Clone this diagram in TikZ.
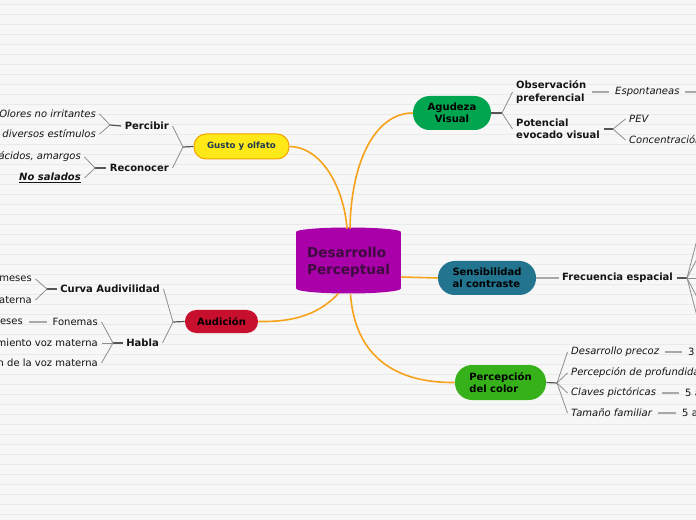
\documentclass[tikz,border=0pt]{standalone}
\usepackage{fontspec}
\setmainfont{DejaVu Sans}
\usetikzlibrary{calc}
\definecolor{bgc}{HTML}{F7F7F7}
\definecolor{bgl}{HTML}{EAEAEA}
\definecolor{orangec}{HTML}{F7A21B}
\definecolor{stubc}{HTML}{555555}
\definecolor{twigc}{HTML}{8E8E8E}
\definecolor{linkc}{HTML}{A8A8A8}
\definecolor{cylc}{HTML}{A900A9}
\definecolor{cyltext}{HTML}{3E0C3E}
\definecolor{gustofill}{HTML}{FFE817}
\definecolor{gustodraw}{HTML}{F5A300}
\definecolor{gustotext}{HTML}{1F3A4D}
\definecolor{agufill}{HTML}{02A54F}
\definecolor{sensfill}{HTML}{23748F}
\definecolor{percfill}{HTML}{37B119}
\definecolor{audfill}{HTML}{C8102E}
\begin{document}
\begin{tikzpicture}[x=0.75pt,y=-0.75pt,
  txt/.style={inner xsep=2.6pt, inner ysep=1pt, text=black!92, font=\fontsize{7.5}{9.4}\selectfont},
  boldtxt/.style={txt, font=\fontsize{7.5}{9.4}\selectfont\bfseries, align=left},
  itxt/.style={txt, font=\fontsize{7.5}{9.4}\selectfont\itshape},
  topic/.style={inner sep=0pt, text=black, font=\fontsize{7.5}{9.4}\selectfont\bfseries},
  orangeline/.style={draw=orangec, line width=1.2pt},
  stub/.style={draw=stubc, line width=0.9pt},
  twig/.style={draw=twigc, line width=0.6pt},
  link/.style={draw=linkc, line width=0.8pt, shorten <=1.6pt, shorten >=1.6pt}
]
\useasboundingbox (0,0) rectangle (696,520);
\clip (0,0) rectangle (696,520);
\fill[bgc] (0,0) rectangle (696,520);
\foreach \yy in {4.5,14.5,...,520} \draw[bgl, line width=0.75pt] (0,\yy) -- (696,\yy);

% central cylinder
\fill[cylc] (296,232) rectangle (401,288.5);
\fill[cylc] (348.5,232) ellipse [x radius=52.5, y radius=4.5];
\fill[cylc] (348.5,288.5) ellipse [x radius=52.5, y radius=5];
\node[inner sep=0pt, minimum width=78.75pt, minimum height=49.5pt, align=left,
      text=cyltext, font=\fontsize{10.2}{13}\selectfont\bfseries] (center) at (348.5,262) {Desarrollo\\Perceptual};

% main topics
\node[topic, fill=gustofill, draw=gustodraw, line width=0.75pt, rounded corners=9pt,
      minimum width=71.25pt, minimum height=18.75pt, text=gustotext,
      font=\fontsize{6.5}{8}\selectfont\bfseries] (gusto) at (241.5,146.5) {Gusto y olfato};
\node[topic, fill=agufill, rounded corners=12.5pt, minimum width=58.5pt, minimum height=25.5pt,
      align=center] (agudeza) at (452,113) {Agudeza\\Visual};
\node[topic, fill=sensfill, rounded corners=12.5pt, minimum width=73.5pt, minimum height=25.5pt,
      align=left] (sens) at (487,278) {Sensibilidad\\al contraste};
\node[topic, fill=percfill, rounded corners=12.8pt, minimum width=68.25pt, minimum height=26.25pt,
      align=left] (perc) at (500.5,382.5) {Percepción\\del color};
\node[topic, fill=audfill, rounded corners=8.4pt, minimum width=54.75pt, minimum height=17.25pt]
      (aud) at (221.5,321.5) {Audición};

% orange connectors
\draw[orangeline] ($(center.north)+(-1.5,0)$) .. controls (344,188) and (322,147) .. (gusto.east);
\draw[orangeline] ($(center.north)+(1.5,0)$) .. controls (351,160) and (376,113) .. (agudeza.west);
\draw[orangeline] ($(center.east)+(0,15)$) -- (sens.west);
\draw[orangeline] ($(center.south)+(2,-1)$) .. controls (356,368) and (410,383) .. (perc.west);
\draw[orangeline] ($(center.south)+(-10,-2)$) .. controls (316,318) and (286,322) .. (aud.east);

% Gusto y olfato branch
\node[boldtxt, anchor=east] (percibir) at (172.5,126) {Percibir};
\node[boldtxt, anchor=east] (reconocer) at (172.5,168) {Reconocer};
\node[itxt, anchor=east] (olores) at (99.5,114) {Olores no irritantes};
\node[itxt, anchor=east] (diversos) at (99.5,134) {a diversos estímulos};
\node[itxt, anchor=east] (acidos) at (84.5,157) {ácidos, amargos};
\node[txt, anchor=east, font=\fontsize{7.5}{9.4}\selectfont\bfseries\itshape] (nosal) at (84.5,178) {\underline{No salados}};
\coordinate (gF) at (183,147);
\coordinate (pF) at (110,125);
\coordinate (rF) at (95,168);
\draw[stub] (gusto.west) -- (gF);
\draw[twig] (gF) -- (percibir.east);
\draw[twig] (gF) -- (reconocer.east);
\draw[stub] (percibir.west) -- (pF);
\draw[twig] (pF) -- (olores.east);
\draw[twig] (pF) -- (diversos.east);
\draw[stub] (reconocer.west) -- (rF);
\draw[twig] (rF) -- (acidos.east);
\draw[twig] (rF) -- (nosal.east);

% Audicion branch
\node[boldtxt, anchor=east] (curva) at (163.5,289) {Curva Audivilidad};
\node[boldtxt, anchor=east] (habla) at (162.5,343) {Habla};
\node[txt, anchor=east] (mesesA) at (35.5,279) {meses};
\node[txt, anchor=east] (aterna) at (35.5,300) {aterna};
\node[txt, anchor=east] (fonemas) at (101.5,322) {Fonemas};
\node[txt, anchor=east] (mesesB) at (26.5,322) {meses};
\node[txt, anchor=east] (miento) at (101.5,343) {miento voz materna};
\node[txt, anchor=east] (ndela) at (101.5,363) {n de la voz materna};
\coordinate (aF) at (173,322);
\coordinate (cF) at (47,289);
\coordinate (hF) at (113,343);
\draw[stub] (aud.west) -- (aF);
\draw[twig] (aF) -- (curva.east);
\draw[twig] (aF) -- (habla.east);
\draw[stub] (curva.west) -- (cF);
\draw[twig] (cF) -- (mesesA.east);
\draw[twig] (cF) -- (aterna.east);
\draw[stub] (habla.west) -- (hF);
\draw[twig] (hF) -- (fonemas.east);
\draw[twig] (hF) -- (miento.east);
\draw[twig] (hF) -- (ndela.east);
\draw[link] (fonemas.west) -- (mesesB.east);

% Agudeza Visual branch
\node[boldtxt, anchor=west] (obs) at (512.5,92) {Observación\\preferencial};
\node[boldtxt, anchor=west] (pot) at (512.5,129) {Potencial\\evocado visual};
\node[itxt, anchor=west] (esp) at (611.5,92) {Espontaneas};
\node[itxt, anchor=west] (pev) at (625.5,119) {PEV};
\node[itxt, anchor=west] (conc) at (625.5,140) {Concentración};
\coordinate (agF) at (502,113);
\coordinate (potF) at (613,129);
\coordinate (espEnd) at (702,92);
\draw[stub] (agudeza.east) -- (agF);
\draw[twig] (agF) -- (obs.west);
\draw[twig] (agF) -- (pot.west);
\draw[link] (obs.east) -- (esp.west);
\draw[link] (esp.east) -- (espEnd);
\draw[stub] (pot.east) -- (potF);
\draw[twig] (potF) -- (pev.west);
\draw[twig] (potF) -- (conc.west);

% Sensibilidad branch
\node[boldtxt, anchor=west] (frec) at (558.5,278) {Frecuencia espacial};
\coordinate (fF) at (687,278);
\coordinate (fa) at (698,236);
\coordinate (fb) at (698,257);
\coordinate (fc) at (698,278);
\coordinate (fd) at (698,299);
\coordinate (fe) at (698,320);
\draw[link, shorten <=0pt, shorten >=0pt] (sens.east) -- (frec.west);
\draw[stub] (frec.east) -- (fF);
\foreach \t in {fa,fb,fc,fd,fe} \draw[twig] (fF) -- (\t);

% Percepcion del color branch
\node[itxt, anchor=west] (dp) at (567.5,352) {Desarrollo precoz};
\node[itxt, anchor=west] (pp) at (567.5,373) {Percepción de profundidad};
\node[itxt, anchor=west] (cp) at (567.5,393) {Claves pictóricas};
\node[itxt, anchor=west] (tf) at (567.5,413) {Tamaño familiar};
\node[txt, anchor=west] (three) at (684.5,352) {3};
\node[txt, anchor=west] (fiveA) at (681.5,393) {5 a};
\node[txt, anchor=west] (fiveB) at (678.5,413) {5 a};
\coordinate (pcF) at (557,383);
\draw[stub] (perc.east) -- (pcF);
\foreach \t in {dp,pp,cp,tf} \draw[twig] (pcF) -- (\t.west);
\draw[link] (dp.east) -- (three.west);
\draw[link] (cp.east) -- (fiveA.west);
\draw[link] (tf.east) -- (fiveB.west);
\end{tikzpicture}
\end{document}
